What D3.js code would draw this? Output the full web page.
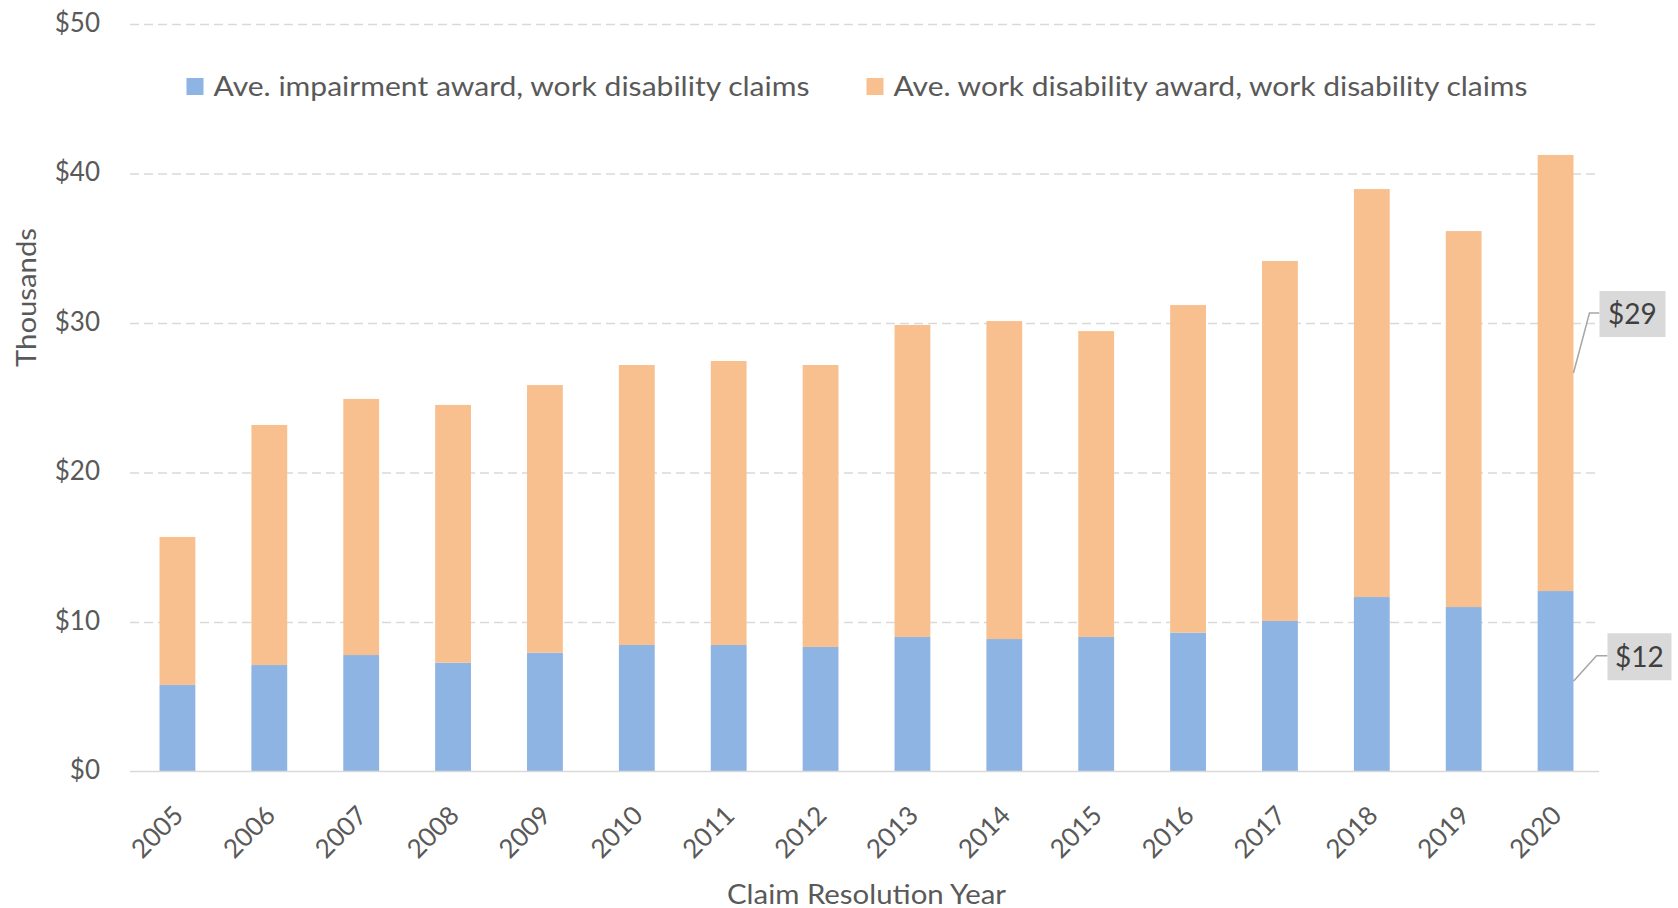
<!DOCTYPE html>
<html>
<head>
<meta charset="utf-8">
<script src="https://cdn.jsdelivr.net/npm/d3@7"></script>
<style>
  html, body { margin: 0; padding: 0; background: #fff; }
  svg { display: block; font-family: Lato, "Open Sans", sans-serif; }
</style>
</head>
<body>
<svg id="chart" width="1678" height="908"></svg>
<script>
// ---- data (values in $ thousands) ----
const years = ["2005","2006","2007","2008","2009","2010","2011","2012","2013","2014","2015","2016","2017","2018","2019","2020"];
const impairmentAward = [5.79, 7.12, 7.79, 7.28, 7.95, 8.46, 8.46, 8.33, 9.00, 8.86, 9.00, 9.29, 10.07, 11.67, 11.00, 12.07];
const workDisabilityAward = [9.90, 16.06, 17.13, 17.24, 17.90, 18.73, 19.00, 18.86, 20.87, 21.27, 20.46, 21.91, 24.08, 27.29, 25.15, 29.17];
const seriesNames = ["Ave. impairment award, work disability claims", "Ave. work disability award, work disability claims"];
const seriesColors = ["#8EB4E3", "#F9C08F"];
const yTicks = [0, 10, 20, 30, 40, 50];
const yAxisTitle = "Thousands";
const xAxisTitle = "Claim Resolution Year";

// ---- layout ----
const svg = d3.select("#chart");
const plotLeft = 131.5, plotRight = 1601.5, plotTop = 24, plotBottom = 771.5;
const gridLeft = 130, gridRight = 1599;
const textColor = "#595959";

const x = d3.scaleBand().domain(years).range([plotLeft, plotRight]).paddingInner(0.61).paddingOuter(0.305);
const y = d3.scaleLinear().domain([0, 50]).range([plotBottom, plotTop]);

// gridlines
const grid = svg.append("g").attr("transform", `translate(${gridLeft},0)`)
  .call(d3.axisLeft(y).tickValues(yTicks.filter(d => d > 0)).tickSize(-(gridRight - gridLeft)).tickFormat(""));
grid.select(".domain").remove();
grid.selectAll("line").attr("stroke", "#d9d9d9").attr("stroke-width", 1.5).attr("stroke-dasharray", "9,5");

// y axis labels
const yAxis = svg.append("g").attr("transform", `translate(${gridLeft},0)`)
  .call(d3.axisLeft(y).tickValues(yTicks).tickSize(0).tickPadding(30).tickFormat(d => "$" + d));
yAxis.select(".domain").remove();
yAxis.selectAll("text").attr("fill", textColor).attr("font-size", 26).attr("dy", "0.27em")
  .attr("font-family", "Lato, 'Open Sans', sans-serif");

// stacked data
const rows = years.map((yr, i) => ({ year: yr, a: impairmentAward[i], b: workDisabilityAward[i] }));
const stacked = d3.stack().keys(["a", "b"])(rows);

svg.append("g").selectAll("g").data(stacked).join("g")
  .attr("fill", (d, i) => seriesColors[i])
  .selectAll("rect").data(d => d).join("rect")
  .attr("x", d => x(d.data.year))
  .attr("width", x.bandwidth())
  .attr("y", d => y(d[1]))
  .attr("height", d => y(d[0]) - y(d[1]));

// x axis
const xAxis = svg.append("g").attr("transform", `translate(0,${plotBottom})`)
  .call(d3.axisBottom(x).tickSize(0));
xAxis.select(".domain").attr("stroke", "#d9d9d9").attr("stroke-width", 1.5)
  .attr("d", `M${gridLeft},0H${gridRight}`);
xAxis.selectAll("text")
  .attr("fill", textColor).attr("font-size", 26).attr("font-family", "Lato, 'Open Sans', sans-serif")
  .attr("x", 0).attr("y", 0).attr("dy", 0)
  .attr("text-anchor", "end")
  .attr("transform", "translate(7.5,45.5) rotate(-45)");

// axis titles
svg.append("text").text(yAxisTitle)
  .attr("transform", `translate(36,297.5) rotate(-90)`)
  .attr("text-anchor", "middle").attr("fill", textColor).attr("font-size", 26)
  .attr("textLength", 139).attr("lengthAdjust", "spacingAndGlyphs");
svg.append("text").text(xAxisTitle)
  .attr("x", 866.5).attr("y", 903.5)
  .attr("text-anchor", "middle").attr("fill", textColor).attr("font-size", 26)
  .attr("textLength", 279).attr("lengthAdjust", "spacingAndGlyphs");

// legend
const legendX = [186.5, 866.5];
const legendW = [596, 634];
const leg = svg.append("g").selectAll("g").data(seriesNames).join("g")
  .attr("transform", (d, i) => `translate(${legendX[i]},78)`);
leg.append("rect").attr("width", 17).attr("height", 17).attr("fill", (d, i) => seriesColors[i]);
leg.append("text").text(d => d).attr("x", 27).attr("y", 18)
  .attr("fill", textColor).attr("font-size", 27)
  .attr("textLength", (d, i) => legendW[i]).attr("lengthAdjust", "spacingAndGlyphs");

// data labels on last bar
const last = years.length - 1;
const barRight = x(years[last]) + x.bandwidth();
const labelSpecs = [
  { seg: stacked[1][last], boxDx: 26, boxDy: -59, bendDx: 16, w: 66, h: 46 },
  { seg: stacked[0][last], boxDx: 34, boxDy: -24.5, bendDx: 23, w: 64, h: 47 }
];
labelSpecs.forEach(s => {
  const midY = (y(s.seg[0]) + y(s.seg[1])) / 2;
  const boxCY = midY + s.boxDy;
  const boxL = barRight + s.boxDx;
  svg.append("path")
    .attr("d", `M${barRight},${midY}L${barRight + s.bendDx},${boxCY - 1}H${boxL}`)
    .attr("fill", "none").attr("stroke", "#a6a6a6").attr("stroke-width", 1.5);
  svg.append("rect").attr("x", boxL).attr("y", boxCY - s.h / 2).attr("width", s.w).attr("height", s.h)
    .attr("fill", "#d9d9d9");
  svg.append("text").text("$" + Math.round(s.seg[1] - s.seg[0]))
    .attr("x", boxL + s.w / 2).attr("y", boxCY + 10)
    .attr("text-anchor", "middle").attr("fill", "#404040").attr("font-size", 28);
});
</script>
</body>
</html>
